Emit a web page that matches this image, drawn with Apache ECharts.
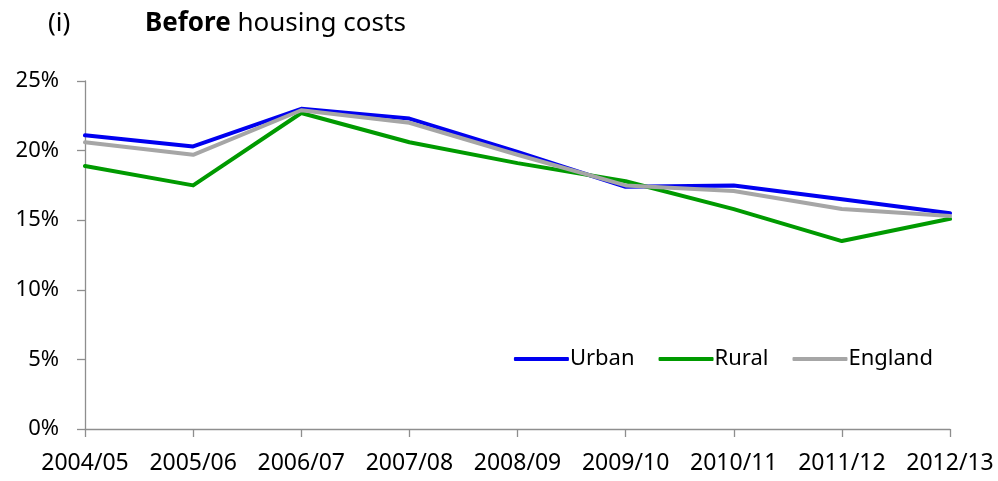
<!DOCTYPE html>
<html>
<head>
<meta charset="utf-8">
<script src="https://cdn.jsdelivr.net/npm/echarts@6/dist/echarts.min.js"></script>
<style>
  html, body { margin: 0; padding: 0; background: #fff; }
  #chart { width: 998px; height: 481px; }
</style>
</head>
<body>
<div id="chart"></div>
<script>
// Share of people in low income, before housing costs (%)
const years = ['2004/05', '2005/06', '2006/07', '2007/08', '2008/09', '2009/10', '2010/11', '2011/12', '2012/13'];
const urban = [21.1, 20.3, 23.0, 22.3, 19.9, 17.4, 17.5, 16.5, 15.5];
const rural = [18.9, 17.5, 22.7, 20.6, 19.1, 17.8, 15.8, 13.5, 15.1];
const england = [20.6, 19.7, 22.9, 22.0, 19.7, 17.5, 17.1, 15.8, 15.3];
const yTicks = [0, 5, 10, 15, 20, 25];

const FONT = 'Noto Sans';
const AXIS_COLOR = '#8e8e8e';

const chart = echarts.init(document.getElementById('chart'), null, { renderer: 'canvas' });

function lineSeries(name, data, color) {
  return {
    name: name,
    type: 'line',
    data: data,
    symbol: 'none',
    lineStyle: { color: color, width: 4, cap: 'round', join: 'round' },
    itemStyle: { color: color },
    emphasis: { disabled: true },
    animation: false
  };
}

chart.setOption({
  animation: false,
  backgroundColor: '#ffffff',
  textStyle: { fontFamily: FONT, color: '#000' },
  title: [
    {
      text: '(i)',
      left: 43, top: 6,
      textStyle: { fontFamily: FONT, fontSize: 26, fontWeight: 'normal', color: '#000' }
    },
    {
      text: '{b|Before} {n|housing costs}',
      left: 140, top: 6,
      textStyle: {
        fontFamily: FONT, fontSize: 26, color: '#000',
        rich: {
          b: { fontFamily: FONT, fontSize: 26, fontWeight: 'bold', color: '#000' },
          n: { fontFamily: FONT, fontSize: 26, fontWeight: 'normal', color: '#000' }
        }
      }
    }
  ],
  legend: {
    data: ['Urban', 'Rural', 'England'],
    right: 60, top: 343,
    itemWidth: 55, itemHeight: 4, itemGap: 24,
    icon: 'roundRect',
    selectedMode: false,
    textStyle: { fontFamily: FONT, fontSize: 22, color: '#000', padding: [0, 0, 0, -4] }
  },
  grid: { left: 85, right: 48, top: 81, bottom: 52, containLabel: false },
  xAxis: {
    type: 'category',
    data: years,
    boundaryGap: false,
    axisLine: { lineStyle: { color: AXIS_COLOR, width: 1.3 } },
    axisTick: { show: true, alignWithLabel: true, length: 8, lineStyle: { color: AXIS_COLOR, width: 1.3 } },
    axisLabel: { fontFamily: FONT, fontSize: 23, color: '#000', margin: 23, interval: 0 },
    splitLine: { show: false }
  },
  yAxis: {
    type: 'value',
    min: yTicks[0],
    max: yTicks[yTicks.length - 1],
    interval: yTicks[1] - yTicks[0],
    axisLine: { show: true, lineStyle: { color: AXIS_COLOR, width: 1.3 } },
    axisTick: { show: true, length: 8, lineStyle: { color: AXIS_COLOR, width: 1.3 } },
    axisLabel: { fontFamily: FONT, fontSize: 22, color: '#000', margin: 26, formatter: '{value}%' },
    splitLine: { show: false }
  },
  series: [
    lineSeries('Urban', urban, '#0000f0'),
    lineSeries('Rural', rural, '#009a00'),
    lineSeries('England', england, '#a6a6a6')
  ]
});
</script>
</body>
</html>
